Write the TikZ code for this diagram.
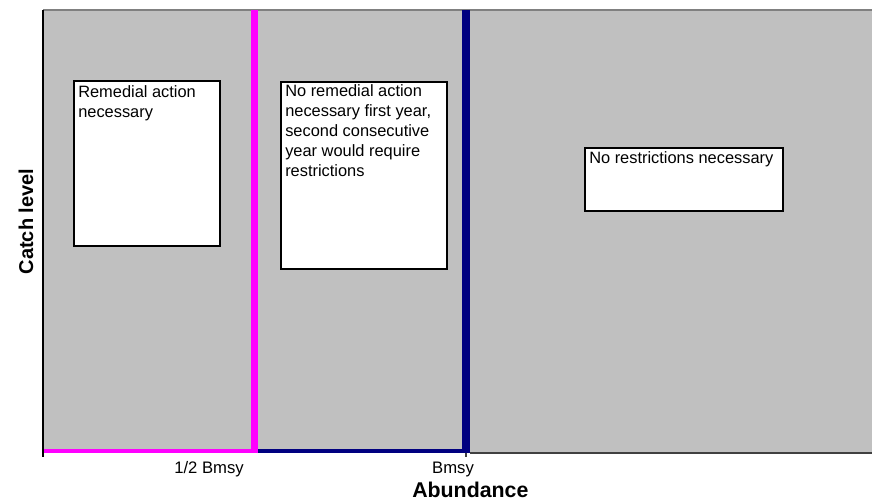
\documentclass[tikz,border=0pt]{standalone}
\usepackage{fontspec}
\setmainfont{Liberation Sans}
\usepackage{xcolor}
\definecolor{plotgray}{HTML}{C0C0C0}
\definecolor{framegray}{HTML}{808080}
\definecolor{axisgray}{HTML}{404040}
\definecolor{limitpink}{HTML}{FF00FF}
\definecolor{limitnavy}{HTML}{000080}

\newcommand{\notelines}[1]{\parbox[t]{130pt}{\raggedright #1}}

\tikzset{
  zone/.style={draw=black, line width=1.3pt, fill=white},
  note/.style={anchor=base west, inner sep=0pt, font=\fontsize{12.3}{15}\selectfont},
  ticklabel/.style={anchor=base, inner sep=0pt, font=\fontsize{12.5}{14}\selectfont},
  axislabel/.style={inner sep=0pt, font=\fontsize{15}{18}\selectfont\bfseries}
}

\begin{document}
\begin{tikzpicture}[x=0.75pt,y=-0.75pt]
\useasboundingbox (0,0) rectangle (872,503);

\fill[plotgray] (43,10) rectangle (872,453);
\draw[framegray, line width=1.5pt] (43,10) -- (872,10);

% limit lines
\draw[limitpink, line width=5.8pt] (254.5,10) -- (254.5,453);
\draw[limitpink, line width=3pt] (43,451) -- (258,451);
\draw[limitnavy, line width=3pt] (258,451) -- (470,451);
\draw[limitnavy, line width=6pt] (466,10) -- (466,453);

% axes
\draw[axisgray, line width=1pt] (470,453) -- (872,453);
\draw[black, line width=1pt] (43,10) -- (43,457);
\draw[axisgray, line width=0.8pt] (466,453) -- (466,457);

% text boxes
\draw[zone] (74,81) rectangle (220,246);
\node[note] (remedial) at (78,98) {\notelines{Remedial action\\necessary}};

\draw[zone] (281,82) rectangle (447,269);
\node[note] (warning) at (285,97) {\notelines{No remedial action\\necessary first year,\\second consecutive\\year would require\\restrictions}};

\draw[zone] (585,148) rectangle (783,211);
\node[note] (free) at (589,164) {No restrictions necessary};

\node[ticklabel] (half) at (209,473) {1/2 Bmsy};
\node[ticklabel] (bmsy) at (453,473) {Bmsy};

\node[axislabel, anchor=base west, font=\fontsize{16}{18}\selectfont\bfseries] (abund) at (412,497) {Abundance};
\node[axislabel, anchor=base, rotate=90] (catch) at (33,221.5) {Catch level};
\end{tikzpicture}
\end{document}
